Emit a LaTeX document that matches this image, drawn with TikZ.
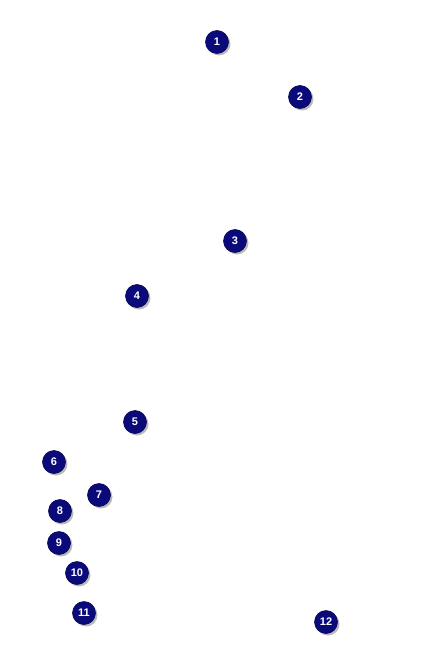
\documentclass[tikz,border=0pt]{standalone}
\usepackage{fontspec}
\setmainfont{Liberation Sans}
\usetikzlibrary{shadows}
\definecolor{navy}{HTML}{0A0A7A}
\tikzset{
  badge/.style={circle, fill=navy, draw=navy!70!black, line width=0.6pt, minimum size=23pt, inner sep=0pt,
    text=white, font=\bfseries\fontsize{11}{11}\selectfont,
    drop shadow={shadow xshift=2pt, shadow yshift=-2pt, fill=black!45, opacity=0.6}}
}
\begin{document}
\begin{tikzpicture}[x=1pt,y=-1pt]
\useasboundingbox (0,0) rectangle (425,650);
\node[badge] (n1) at (217,42) {1};
\node[badge] (n2) at (300,97) {2};
\node[badge] (n3) at (235,241) {3};
\node[badge] (n4) at (137,296) {4};
\node[badge] (n5) at (135,422) {5};
\node[badge] (n6) at (54,462) {6};
\node[badge] (n7) at (99,495) {7};
\node[badge] (n8) at (60,511) {8};
\node[badge] (n9) at (59,543) {9};
\node[badge] (n10) at (77,573) {10};
\node[badge] (n11) at (84,613) {11};
\node[badge] (n12) at (326,622) {12};
\end{tikzpicture}
\end{document}
